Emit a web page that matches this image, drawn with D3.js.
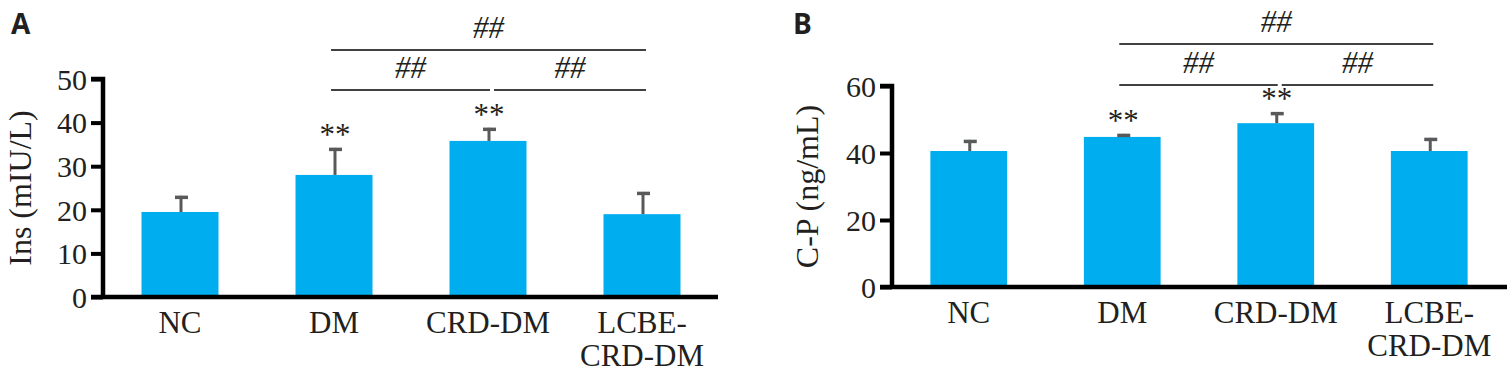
<!DOCTYPE html>
<html>
<head>
<meta charset="utf-8">
<script src="https://cdn.jsdelivr.net/npm/d3@7"></script>
<style>
  body { margin: 0; background: #fff; }
  text { font-family: "Liberation Serif", "Times New Roman", serif; fill: #231f20; }
  .panel-label { font-family: "Open Sans", "Liberation Sans", sans-serif; font-weight: bold; }
</style>
</head>
<body>
<div id="chart"></div>
<script>
const width = 1512;
const height = 373;

const groups = ["NC", "DM", "CRD-DM", "LCBE-CRD-DM"];
const groupLabels = [["NC"], ["DM"], ["CRD-DM"], ["LCBE-", "CRD-DM"]];

const insMean = [19.5, 28.0, 35.8, 19.0];
const insErr = [3.7, 6.2, 3.0, 5.1];
const insStars = ["", "**", "**", ""];
const insTicks = [0, 10, 20, 30, 40, 50];

const cpMean = [40.6, 44.8, 48.9, 40.6];
const cpErr = [3.3, 0.9, 3.3, 3.9];
const cpStars = ["", "**", "**", ""];
const cpTicks = [0, 20, 40, 60];

// comparison brackets: [from, to, row]
const brackets = [
  ["DM", "LCBE-CRD-DM", 0],
  ["DM", "CRD-DM", 1],
  ["CRD-DM", "LCBE-CRD-DM", 1],
];

const barColor = "#00aeef";
const errColor = "#58595b";

const svg = d3.select("#chart").append("svg")
  .attr("width", width)
  .attr("height", height);

function drawPanel(opt) {
  const g = svg.append("g");

  const x = d3.scaleBand()
    .domain(groups)
    .range([opt.left, opt.right])
    .paddingInner(0.5)
    .paddingOuter(0.25);

  const y = d3.scaleLinear()
    .domain([0, opt.max])
    .range([opt.bottom, opt.top]);

  const cx = (d) => x(d) + x.bandwidth() / 2;

  // bars
  g.selectAll("rect.bar")
    .data(groups)
    .enter()
    .append("rect")
    .attr("class", "bar")
    .attr("x", (d) => x(d))
    .attr("width", x.bandwidth())
    .attr("y", (d, i) => y(opt.mean[i]))
    .attr("height", (d, i) => y(0) - y(opt.mean[i]))
    .attr("fill", barColor);

  // error bars
  const eb = g.selectAll("g.err")
    .data(groups)
    .enter()
    .append("g")
    .attr("class", "err");
  eb.append("line")
    .attr("x1", (d) => cx(d) + 1)
    .attr("x2", (d) => cx(d) + 1)
    .attr("y1", (d, i) => y(opt.mean[i]))
    .attr("y2", (d, i) => y(opt.mean[i] + opt.err[i]))
    .attr("stroke", errColor)
    .attr("stroke-width", 3);
  eb.append("line")
    .attr("x1", (d) => cx(d) - 5)
    .attr("x2", (d) => cx(d) + 8)
    .attr("y1", (d, i) => y(opt.mean[i] + opt.err[i]) + 1.5)
    .attr("y2", (d, i) => y(opt.mean[i] + opt.err[i]) + 1.5)
    .attr("stroke", errColor)
    .attr("stroke-width", 3.5);

  // stars
  g.selectAll("text.star")
    .data(groups)
    .enter()
    .append("text")
    .attr("class", "star")
    .attr("x", (d) => cx(d) + 1)
    .attr("y", (d, i) => y(opt.mean[i] + opt.err[i]) - 3)
    .attr("text-anchor", "middle")
    .attr("font-size", 31)
    .text((d, i) => opt.stars[i]);

  // y axis
  const yAxis = g.append("g")
    .attr("transform", `translate(${opt.left},0)`)
    .call(d3.axisLeft(y).tickValues(opt.ticks).tickSize(12).tickPadding(4));
  yAxis.select(".domain").attr("stroke", "#000").attr("stroke-width", 4.5)
    .attr("d", `M-12,${y(opt.max)}H0V${y(0)}`);
  yAxis.selectAll(".tick line").attr("stroke", "#000").attr("stroke-width", 4);
  yAxis.selectAll(".tick text")
    .attr("font-size", 30)
    .attr("fill", "#231f20")
    .attr("font-family", "Liberation Serif")
    .attr("dy", "0.34em");

  // x axis line
  const xAxis = g.append("g")
    .attr("transform", `translate(0,${opt.bottom})`)
    .call(d3.axisBottom(x).tickSize(0).tickFormat(""));
  xAxis.select(".domain").attr("stroke", "#000").attr("stroke-width", 4.5)
    .attr("d", `M${opt.left - 12},0H${opt.axisEnd}`);

  // x labels
  const xl = g.selectAll("text.xlab")
    .data(groups)
    .enter()
    .append("text")
    .attr("class", "xlab")
    .attr("y", opt.bottom + 36)
    .attr("text-anchor", "middle")
    .attr("font-size", 31);
  xl.each(function (d, i) {
    groupLabels[i].forEach((line, k) => {
      d3.select(this).append("tspan")
        .attr("x", cx(d))
        .attr("dy", k === 0 ? 0 : 33)
        .text(line);
    });
  });

  // y label
  g.append("text")
    .attr("transform", `translate(${opt.ylabX},${(opt.top + opt.bottom) / 2}) rotate(-90)`)
    .attr("text-anchor", "middle")
    .attr("font-size", 32)
    .text(opt.ylabel);

  // panel letter
  g.append("text")
    .attr("class", "panel-label")
    .attr("x", opt.letterX)
    .attr("y", 34)
    .attr("font-size", 28)
    .text(opt.letter);

  // brackets
  brackets.forEach(([a, b, row]) => {
    const x1 = cx(a) - 3 + (row === 1 && a !== "DM" ? 9 : 0);
    const x2 = cx(b) + 4 - (row === 1 && b !== "LCBE-CRD-DM" ? 2 : 0);
    const ly = opt.bracketY[row];
    g.append("line")
      .attr("x1", x1).attr("x2", x2)
      .attr("y1", ly).attr("y2", ly)
      .attr("stroke", "#414042")
      .attr("stroke-width", 2);
    g.append("text")
      .attr("x", (x1 + x2) / 2)
      .attr("y", ly - 12)
      .attr("text-anchor", "middle")
      .attr("font-size", 31)
      .attr("font-style", "italic")
      .text("##");
  });
}

drawPanel({
  left: 103, right: 719, axisEnd: 718, top: 79, bottom: 297,
  max: 50, mean: insMean, err: insErr, stars: insStars, ticks: insTicks,
  ylabel: "Ins (mIU/L)", ylabX: 31, letter: "A", letterX: 11,
  bracketY: [50, 90],
});

drawPanel({
  left: 892, right: 1506, axisEnd: 1507, top: 86, bottom: 287,
  max: 60, mean: cpMean, err: cpErr, stars: cpStars, ticks: cpTicks,
  ylabel: "C-P (ng/mL)", ylabX: 818, letter: "B", letterX: 793,
  bracketY: [44, 85],
});
</script>
</body>
</html>
